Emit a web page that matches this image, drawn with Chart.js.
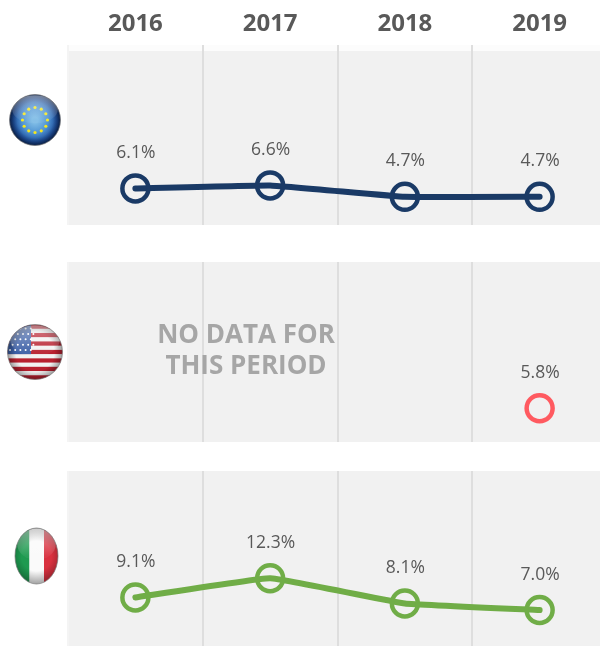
<!DOCTYPE html>
<html><head><meta charset="utf-8">
<script src="https://cdn.jsdelivr.net/npm/chart.js@4"></script>
<style>
html,body{margin:0;padding:0;background:#fff;width:600px;height:646px;overflow:hidden}
#wrap{position:relative;width:600px;height:646px;overflow:hidden}
canvas{position:absolute;left:0}
#nodata{position:absolute;left:116px;top:318px;width:260px;text-align:center;font:700 26px/31px "Open Sans",sans-serif;color:#a6a6a6}
</style></head>
<body><div id="wrap">
<canvas id="c1" width="620" height="225" style="top:0;width:620px;height:225px"></canvas>
<canvas id="c2" width="620" height="180" style="top:262px;width:620px;height:180px"></canvas>
<canvas id="c3" width="620" height="180" style="top:471px;width:620px;height:180px"></canvas>
<canvas id="flags" width="68" height="646" style="top:0;width:68px;height:646px"></canvas>
<div id="nodata">NO DATA FOR<br>THIS PERIOD</div>
</div>
<script>
const years = ['2016','2017','2018','2019'];
const euValues = [6.1,6.6,4.7,4.7];
const usValues = [null,null,null,5.8];
const itValues = [9.1,12.3,8.1,7.0];
const euColor = '#1a3a66', usColor = '#ff5a60', itColor = '#70ad47';
const yRange = 30;

const panelPlugin = {
  id:'panel',
  beforeDraw(ch,args,o){
    const a=ch.chartArea,c=ch.ctx;
    c.save();
    c.fillStyle='#fcfcfc';c.fillRect(a.left,a.top,a.right-a.left,a.bottom-a.top);
    c.fillStyle='#f1f1f1';c.fillRect(a.left+1,a.top+(o.inset||0),a.right-a.left,a.bottom-a.top-(o.inset||0));
    c.restore();
  }
};
const labelPlugin = {
  id:'valueLabels',
  afterDatasetsDraw(ch){
    const c=ch.ctx,meta=ch.getDatasetMeta(0),d=ch.data.datasets[0].data;
    c.save();c.font='17.5px "Open Sans",sans-serif';c.fillStyle='#595959';c.textAlign='center';c.textBaseline='middle';
    meta.data.forEach((p,i)=>{ if(d[i]!=null) c.fillText(d[i].toFixed(1)+'%',p.x+0.5,p.y-35.5); });
    c.restore();
  }
};
function make(id,values,color,showHeader,inset,yMin){
  return new Chart(document.getElementById(id),{
    type:'line',
    data:{labels:years,datasets:[{data:values,borderColor:color,borderWidth:6,tension:0.08,borderCapStyle:'round',
      pointRadius:13,pointHoverRadius:13,pointBorderWidth:4.5,pointBorderColor:color,pointBackgroundColor:'rgba(0,0,0,0)',
      spanGaps:false,clip:false}]},
    options:{
      responsive:false,animation:false,
      layout:{autoPadding:false,padding:{left:68,right:13,top:0,bottom:0}},
      plugins:{legend:{display:false},tooltip:{enabled:false},panel:{inset:inset}},
      scales:{
        x:{position:'top',offset:true,
          grid:{offset:true,color:(ctx)=>ctx.index===0?'#f4f4f4':'#dedede',lineWidth:2,drawTicks:false},
          border:{display:false},
          afterFit:(s)=>{s.height=showHeader?45:0;},
          ticks:{display:showHeader,padding:6,maxRotation:0,autoSkip:false,color:'#595959',font:{family:'"Open Sans",sans-serif',size:24,weight:'700'}}},
        y:{display:false,min:yMin,max:yMin+yRange}
      }
    },
    plugins:[panelPlugin,labelPlugin]
  });
}
make('c1',euValues,euColor,true,6,0);
make('c2',usValues,usColor,false,0,0.17);
make('c3',itValues,itColor,false,0,0.17);

// flag icons
const g=document.getElementById('flags').getContext('2d');
function flag(cx,cy,rx,ry,paint){
  g.save();
  g.beginPath();g.ellipse(cx,cy,rx,ry,0,0,Math.PI*2);g.clip();
  paint();
  let sh=g.createRadialGradient(cx,cy,Math.min(rx,ry)*0.7,cx,cy,Math.max(rx,ry));
  sh.addColorStop(0,'rgba(0,0,0,0)');sh.addColorStop(1,'rgba(0,0,0,0.35)');
  g.fillStyle=sh;g.fillRect(cx-rx,cy-ry,rx*2,ry*2);
  let hl=g.createLinearGradient(0,cy-ry,0,cy);
  hl.addColorStop(0,'rgba(255,255,255,0.45)');hl.addColorStop(1,'rgba(255,255,255,0.05)');
  g.fillStyle=hl;g.beginPath();g.ellipse(cx,cy-ry*0.42,rx*0.9,ry*0.55,0,0,Math.PI*2);g.fill();
  g.restore();
  g.strokeStyle='rgba(120,120,120,0.7)';g.lineWidth=1;
  g.beginPath();g.ellipse(cx,cy,rx,ry,0,0,Math.PI*2);g.stroke();
}
flag(35,120,25.5,25.5,()=>{
  let r=g.createRadialGradient(35,120,3,35,120,26);
  r.addColorStop(0,'#7fbce6');r.addColorStop(0.45,'#4f93d2');r.addColorStop(0.8,'#1e4f9c');r.addColorStop(1,'#0d2a63');
  g.fillStyle=r;g.fillRect(0,90,70,60);
  g.fillStyle='#f4e61e';
  for(let i=0;i<12;i++){const t=i*Math.PI/6;g.beginPath();g.arc(35+Math.sin(t)*12.5,120-Math.cos(t)*12.5,1.6,0,7);g.fill();}
});
flag(35,352,27.5,27.5,()=>{
  const top=324.5,h=55/13;
  for(let i=0;i<13;i++){g.fillStyle=i%2?'#f2f2f2':'#b8202f';g.fillRect(0,top+i*h,70,h+0.5);}
  g.fillStyle='#3c5fa6';g.fillRect(0,top,31,h*7);
  g.fillStyle='#fff';
  for(let y=0;y<5;y++)for(let x=0;x<5;x++){g.beginPath();g.arc(10+x*5.2+(y%2)*2.6,top+4+y*5.4,1,0,7);g.fill();}
});
flag(36.5,556,21.5,28,()=>{
  g.fillStyle='#1e9a50';g.fillRect(15,528,14.5,56);
  g.fillStyle='#fafafa';g.fillRect(29.5,528,14.5,56);
  g.fillStyle='#d9313f';g.fillRect(44,528,15,56);
});
</script>
</body></html>
